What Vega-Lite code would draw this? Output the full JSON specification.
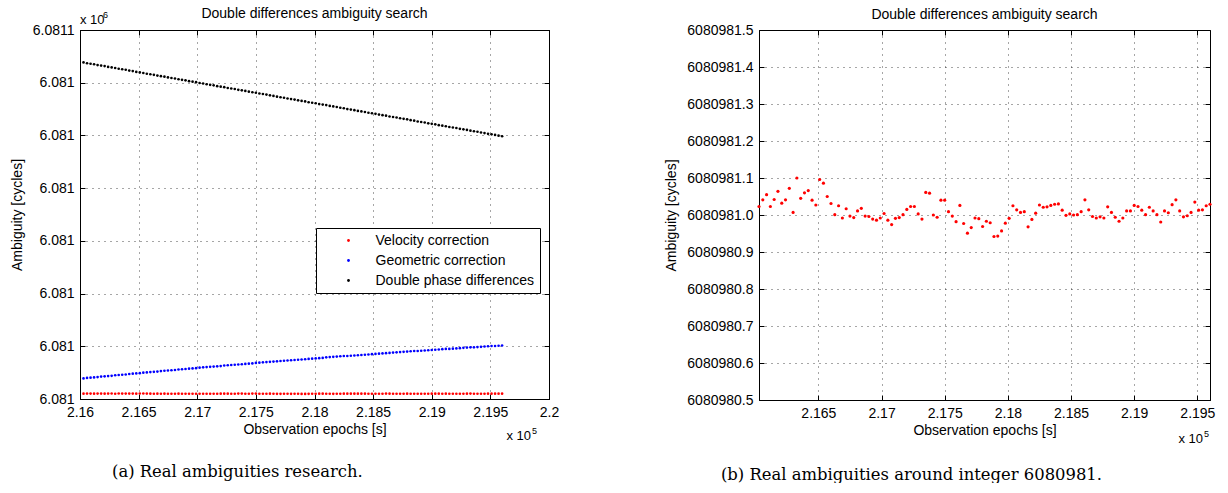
{
  "$schema": "https://vega.github.io/schema/vega-lite/v6.json",
  "background": "white",
  "padding": {"left": 9, "top": 6, "right": 0, "bottom": 0},
  "datasets": {
    "epochs": [
      {"t": 216030, "vel": 6080981.023, "geo": 6080986.8, "dd": 6081106.7},
      {"t": 216060, "vel": 6080981.041, "geo": 6080987.0, "dd": 6081106.4},
      {"t": 216090, "vel": 6080981.055, "geo": 6080987.1, "dd": 6081106.2},
      {"t": 216120, "vel": 6080981.023, "geo": 6080987.2, "dd": 6081106.0},
      {"t": 216150, "vel": 6080981.042, "geo": 6080987.3, "dd": 6081105.7},
      {"t": 216180, "vel": 6080981.064, "geo": 6080987.5, "dd": 6081105.5},
      {"t": 216210, "vel": 6080981.032, "geo": 6080987.6, "dd": 6081105.3},
      {"t": 216240, "vel": 6080981.041, "geo": 6080987.7, "dd": 6081105.0},
      {"t": 216270, "vel": 6080981.072, "geo": 6080987.8, "dd": 6081104.8},
      {"t": 216300, "vel": 6080981.007, "geo": 6080988.0, "dd": 6081104.6},
      {"t": 216330, "vel": 6080981.100, "geo": 6080988.1, "dd": 6081104.3},
      {"t": 216360, "vel": 6080981.045, "geo": 6080988.2, "dd": 6081104.1},
      {"t": 216390, "vel": 6080981.060, "geo": 6080988.3, "dd": 6081103.9},
      {"t": 216420, "vel": 6080981.066, "geo": 6080988.5, "dd": 6081103.6},
      {"t": 216450, "vel": 6080981.040, "geo": 6080988.6, "dd": 6081103.4},
      {"t": 216480, "vel": 6080981.027, "geo": 6080988.7, "dd": 6081103.1},
      {"t": 216510, "vel": 6080981.096, "geo": 6080988.8, "dd": 6081102.9},
      {"t": 216540, "vel": 6080981.086, "geo": 6080989.0, "dd": 6081102.7},
      {"t": 216570, "vel": 6080981.050, "geo": 6080989.1, "dd": 6081102.4},
      {"t": 216600, "vel": 6080981.031, "geo": 6080989.2, "dd": 6081102.2},
      {"t": 216630, "vel": 6080981.001, "geo": 6080989.3, "dd": 6081102.0},
      {"t": 216660, "vel": 6080981.025, "geo": 6080989.4, "dd": 6081101.7},
      {"t": 216690, "vel": 6080980.992, "geo": 6080989.6, "dd": 6081101.5},
      {"t": 216720, "vel": 6080981.017, "geo": 6080989.7, "dd": 6081101.3},
      {"t": 216750, "vel": 6080980.997, "geo": 6080989.8, "dd": 6081101.0},
      {"t": 216780, "vel": 6080980.993, "geo": 6080989.9, "dd": 6081100.8},
      {"t": 216810, "vel": 6080981.011, "geo": 6080990.0, "dd": 6081100.6},
      {"t": 216840, "vel": 6080981.018, "geo": 6080990.2, "dd": 6081100.3},
      {"t": 216870, "vel": 6080980.997, "geo": 6080990.3, "dd": 6081100.1},
      {"t": 216900, "vel": 6080980.996, "geo": 6080990.4, "dd": 6081099.9},
      {"t": 216930, "vel": 6080980.989, "geo": 6080990.5, "dd": 6081099.6},
      {"t": 216960, "vel": 6080980.986, "geo": 6080990.6, "dd": 6081099.4},
      {"t": 216990, "vel": 6080980.992, "geo": 6080990.7, "dd": 6081099.2},
      {"t": 217020, "vel": 6080981.004, "geo": 6080990.9, "dd": 6081098.9},
      {"t": 217050, "vel": 6080980.986, "geo": 6080991.0, "dd": 6081098.7},
      {"t": 217080, "vel": 6080980.974, "geo": 6080991.1, "dd": 6081098.4},
      {"t": 217110, "vel": 6080980.991, "geo": 6080991.2, "dd": 6081098.2},
      {"t": 217140, "vel": 6080980.993, "geo": 6080991.3, "dd": 6081098.0},
      {"t": 217170, "vel": 6080981.001, "geo": 6080991.4, "dd": 6081097.7},
      {"t": 217200, "vel": 6080981.015, "geo": 6080991.5, "dd": 6081097.5},
      {"t": 217230, "vel": 6080981.023, "geo": 6080991.7, "dd": 6081097.3},
      {"t": 217260, "vel": 6080981.023, "geo": 6080991.8, "dd": 6081097.0},
      {"t": 217290, "vel": 6080981.003, "geo": 6080991.9, "dd": 6081096.8},
      {"t": 217320, "vel": 6080980.989, "geo": 6080992.0, "dd": 6081096.6},
      {"t": 217350, "vel": 6080981.061, "geo": 6080992.1, "dd": 6081096.3},
      {"t": 217380, "vel": 6080981.059, "geo": 6080992.2, "dd": 6081096.1},
      {"t": 217410, "vel": 6080981.000, "geo": 6080992.3, "dd": 6081095.9},
      {"t": 217440, "vel": 6080980.994, "geo": 6080992.4, "dd": 6081095.6},
      {"t": 217470, "vel": 6080981.040, "geo": 6080992.5, "dd": 6081095.4},
      {"t": 217500, "vel": 6080981.040, "geo": 6080992.7, "dd": 6081095.2},
      {"t": 217530, "vel": 6080981.009, "geo": 6080992.8, "dd": 6081094.9},
      {"t": 217560, "vel": 6080980.997, "geo": 6080992.9, "dd": 6081094.7},
      {"t": 217590, "vel": 6080980.982, "geo": 6080993.0, "dd": 6081094.5},
      {"t": 217620, "vel": 6080981.026, "geo": 6080993.1, "dd": 6081094.2},
      {"t": 217650, "vel": 6080980.977, "geo": 6080993.2, "dd": 6081094.0},
      {"t": 217680, "vel": 6080980.951, "geo": 6080993.3, "dd": 6081093.7},
      {"t": 217710, "vel": 6080980.966, "geo": 6080993.4, "dd": 6081093.5},
      {"t": 217740, "vel": 6080980.992, "geo": 6080993.5, "dd": 6081093.3},
      {"t": 217770, "vel": 6080980.990, "geo": 6080993.6, "dd": 6081093.0},
      {"t": 217800, "vel": 6080980.969, "geo": 6080993.7, "dd": 6081092.8},
      {"t": 217830, "vel": 6080980.983, "geo": 6080993.8, "dd": 6081092.6},
      {"t": 217860, "vel": 6080980.979, "geo": 6080993.9, "dd": 6081092.3},
      {"t": 217890, "vel": 6080980.942, "geo": 6080994.0, "dd": 6081092.1},
      {"t": 217920, "vel": 6080980.943, "geo": 6080994.1, "dd": 6081091.9},
      {"t": 217950, "vel": 6080980.957, "geo": 6080994.2, "dd": 6081091.6},
      {"t": 217980, "vel": 6080980.978, "geo": 6080994.3, "dd": 6081091.4},
      {"t": 218010, "vel": 6080980.991, "geo": 6080994.4, "dd": 6081091.2},
      {"t": 218040, "vel": 6080981.025, "geo": 6080994.5, "dd": 6081090.9},
      {"t": 218070, "vel": 6080981.014, "geo": 6080994.6, "dd": 6081090.7},
      {"t": 218100, "vel": 6080981.007, "geo": 6080994.8, "dd": 6081090.5},
      {"t": 218130, "vel": 6080981.009, "geo": 6080994.9, "dd": 6081090.2},
      {"t": 218160, "vel": 6080980.968, "geo": 6080995.0, "dd": 6081090.0},
      {"t": 218190, "vel": 6080980.988, "geo": 6080995.1, "dd": 6081089.8},
      {"t": 218220, "vel": 6080981.005, "geo": 6080995.2, "dd": 6081089.5},
      {"t": 218250, "vel": 6080981.027, "geo": 6080995.3, "dd": 6081089.3},
      {"t": 218280, "vel": 6080981.021, "geo": 6080995.3, "dd": 6081089.0},
      {"t": 218310, "vel": 6080981.022, "geo": 6080995.4, "dd": 6081088.8},
      {"t": 218340, "vel": 6080981.026, "geo": 6080995.5, "dd": 6081088.6},
      {"t": 218370, "vel": 6080981.029, "geo": 6080995.6, "dd": 6081088.3},
      {"t": 218400, "vel": 6080981.030, "geo": 6080995.7, "dd": 6081088.1},
      {"t": 218430, "vel": 6080981.013, "geo": 6080995.8, "dd": 6081087.9},
      {"t": 218460, "vel": 6080980.999, "geo": 6080995.9, "dd": 6081087.6},
      {"t": 218490, "vel": 6080981.003, "geo": 6080996.0, "dd": 6081087.4},
      {"t": 218520, "vel": 6080981.000, "geo": 6080996.1, "dd": 6081087.2},
      {"t": 218550, "vel": 6080981.001, "geo": 6080996.2, "dd": 6081086.9},
      {"t": 218580, "vel": 6080981.009, "geo": 6080996.3, "dd": 6081086.7},
      {"t": 218610, "vel": 6080981.041, "geo": 6080996.4, "dd": 6081086.5},
      {"t": 218640, "vel": 6080981.014, "geo": 6080996.5, "dd": 6081086.2},
      {"t": 218670, "vel": 6080980.996, "geo": 6080996.6, "dd": 6081086.0},
      {"t": 218700, "vel": 6080980.992, "geo": 6080996.7, "dd": 6081085.8},
      {"t": 218730, "vel": 6080980.995, "geo": 6080996.8, "dd": 6081085.5},
      {"t": 218760, "vel": 6080980.992, "geo": 6080996.9, "dd": 6081085.3},
      {"t": 218790, "vel": 6080981.022, "geo": 6080997.0, "dd": 6081085.1},
      {"t": 218820, "vel": 6080981.007, "geo": 6080997.1, "dd": 6081084.8},
      {"t": 218850, "vel": 6080980.994, "geo": 6080997.2, "dd": 6081084.6},
      {"t": 218880, "vel": 6080980.983, "geo": 6080997.2, "dd": 6081084.3},
      {"t": 218910, "vel": 6080980.992, "geo": 6080997.3, "dd": 6081084.1},
      {"t": 218940, "vel": 6080981.011, "geo": 6080997.4, "dd": 6081083.9},
      {"t": 218970, "vel": 6080981.011, "geo": 6080997.5, "dd": 6081083.6},
      {"t": 219000, "vel": 6080981.026, "geo": 6080997.6, "dd": 6081083.4},
      {"t": 219030, "vel": 6080981.023, "geo": 6080997.7, "dd": 6081083.2},
      {"t": 219060, "vel": 6080981.013, "geo": 6080997.8, "dd": 6081082.9},
      {"t": 219090, "vel": 6080981.001, "geo": 6080997.9, "dd": 6081082.7},
      {"t": 219120, "vel": 6080981.021, "geo": 6080998.0, "dd": 6081082.5},
      {"t": 219150, "vel": 6080981.011, "geo": 6080998.0, "dd": 6081082.2},
      {"t": 219180, "vel": 6080981.001, "geo": 6080998.1, "dd": 6081082.0},
      {"t": 219210, "vel": 6080980.981, "geo": 6080998.2, "dd": 6081081.8},
      {"t": 219240, "vel": 6080981.011, "geo": 6080998.3, "dd": 6081081.5},
      {"t": 219270, "vel": 6080981.006, "geo": 6080998.4, "dd": 6081081.3},
      {"t": 219300, "vel": 6080981.028, "geo": 6080998.5, "dd": 6081081.1},
      {"t": 219330, "vel": 6080981.041, "geo": 6080998.6, "dd": 6081080.8},
      {"t": 219360, "vel": 6080981.011, "geo": 6080998.6, "dd": 6081080.6},
      {"t": 219390, "vel": 6080980.995, "geo": 6080998.7, "dd": 6081080.4},
      {"t": 219420, "vel": 6080980.998, "geo": 6080998.8, "dd": 6081080.1},
      {"t": 219450, "vel": 6080981.007, "geo": 6080998.9, "dd": 6081079.9},
      {"t": 219480, "vel": 6080981.035, "geo": 6080999.0, "dd": 6081079.6},
      {"t": 219510, "vel": 6080981.013, "geo": 6080999.1, "dd": 6081079.4},
      {"t": 219540, "vel": 6080981.014, "geo": 6080999.1, "dd": 6081079.2},
      {"t": 219570, "vel": 6080981.025, "geo": 6080999.2, "dd": 6081078.9},
      {"t": 219600, "vel": 6080981.029, "geo": 6080999.3, "dd": 6081078.7}
    ]
  },
  "hconcat": [
    {
      "title": {"text": "(a) Real ambiguities research.", "orient": "bottom", "font": "DejaVu Serif", "fontSize": 16.4, "fontWeight": "normal", "anchor": "middle", "frame": "bounds", "offset": 20, "dx": -47},
      "vconcat": [
        {
          "width": 469,
          "height": 369,
          "title": {"text": "Double differences ambiguity search", "frame": "group", "anchor": "middle", "offset": -10},
          "resolve": {"axis": {"x": "independent", "y": "independent"}},
          "layer": [
            {
              "data": {"name": "epochs"},
              "transform": [{"fold": ["vel", "geo", "dd"], "as": ["series", "value"]}],
              "mark": {"type": "point", "filled": true, "size": 7, "opacity": 1, "shape": "circle"},
              "encoding": {
                "x": {
                  "field": "t", "type": "quantitative", "title": "Observation epochs [s]",
                  "scale": {"domain": [216000, 220000], "nice": false, "zero": false},
                  "axis": {"values": [216000, 216500, 217000, 217500, 218000, 218500, 219000, 219500, 220000],
                           "tickCount": 9, "labelExpr": "format(datum.value / 100000, '.4~f')", "labelOverlap": false}
                },
                "y": {
                  "field": "value", "type": "quantitative", "title": "Ambiguity [cycles]",
                  "scale": {"domain": [6080979, 6081119], "nice": false, "zero": false},
                  "axis": {"values": [6080979, 6080999, 6081019, 6081039, 6081059, 6081079, 6081099, 6081119],
                           "tickCount": 8, "labelExpr": "datum.value > 6081110 ? '6.0811' : '6.081'",
                           "labelOverlap": false, "minExtent": 49, "maxExtent": 49}
                },
                "color": {
                  "field": "series", "type": "nominal",
                  "scale": {"domain": ["vel", "geo", "dd"], "range": ["#ff0000", "#0000ff", "#000000"]},
                  "legend": {
                    "orient": "none", "legendX": 236, "legendY": 198, "title": null,
                    "labelExpr": "datum.value == 'vel' ? 'Velocity correction' : datum.value == 'geo' ? 'Geometric correction' : 'Double phase differences'",
                    "symbolOffset": 20, "labelOffset": 20
                  }
                }
              }
            },
            {
              "data": {"values": [{}]},
              "mark": {"type": "text", "align": "left", "baseline": "alphabetic", "fontSize": 13, "dy": -6.5},
              "encoding": {
                "x": {"datum": 216000, "type": "quantitative",
                      "axis": {"orient": "top", "values": [216000, 216500, 217000, 217500, 218000, 218500, 219000, 219500, 220000],
                               "tickCount": 9, "labels": false, "grid": false, "domain": false, "title": null}},
                "y": {"datum": 6081119, "type": "quantitative",
                      "axis": {"orient": "right", "values": [6080979, 6080999, 6081019, 6081039, 6081059, 6081079, 6081099, 6081119],
                               "tickCount": 8, "labels": false, "grid": false, "domain": false, "title": null, "minExtent": 0, "maxExtent": 0}},
                "text": {"value": "x 10"}
              }
            },
            {
              "data": {"values": [{}]},
              "mark": {"type": "text", "align": "left", "baseline": "alphabetic", "fontSize": 9, "dx": 23, "dy": -12},
              "encoding": {
                "x": {"datum": 216000, "type": "quantitative", "axis": null},
                "y": {"datum": 6081119, "type": "quantitative", "axis": null},
                "text": {"value": "6"}
              }
            },
            {
              "data": {"values": [{}]},
              "mark": {"type": "text", "align": "right", "baseline": "alphabetic", "fontSize": 13, "dx": -18, "dy": 41},
              "encoding": {
                "x": {"datum": 220000, "type": "quantitative", "axis": null},
                "y": {"datum": 6080979, "type": "quantitative", "axis": null},
                "text": {"value": "x 10"}
              }
            },
            {
              "data": {"values": [{}]},
              "mark": {"type": "text", "align": "left", "baseline": "alphabetic", "fontSize": 9, "dx": -17, "dy": 35},
              "encoding": {
                "x": {"datum": 220000, "type": "quantitative", "axis": null},
                "y": {"datum": 6080979, "type": "quantitative", "axis": null},
                "text": {"value": "5"}
              }
            }
          ]
        }
      ]
    },
    {
      "title": {"text": "(b) Real ambiguities around integer 6080981.", "orient": "bottom", "font": "DejaVu Serif", "fontSize": 16.4, "fontWeight": "normal", "anchor": "middle", "frame": "bounds", "offset": 20, "dx": -28},
      "vconcat": [
        {
          "width": 451,
          "height": 370,
          "title": {"text": "Double differences ambiguity search", "frame": "group", "anchor": "middle", "offset": 1},
          "resolve": {"axis": {"x": "independent", "y": "independent"}},
          "layer": [
            {
              "data": {"name": "epochs"},
              "mark": {"type": "point", "filled": true, "size": 10, "opacity": 1, "shape": "circle", "color": "#ff0000"},
              "encoding": {
                "x": {
                  "field": "t", "type": "quantitative", "title": "Observation epochs [s]",
                  "scale": {"domain": [216030, 219600], "nice": false, "zero": false},
                  "axis": {"values": [216500, 217000, 217500, 218000, 218500, 219000, 219500],
                           "tickCount": 7, "labelExpr": "format(datum.value / 100000, '.4~f')", "labelOverlap": false}
                },
                "y": {
                  "field": "vel", "type": "quantitative", "title": "Ambiguity [cycles]",
                  "scale": {"domain": [6080980.5, 6080981.5], "nice": false, "zero": false},
                  "axis": {"values": [6080980.5, 6080980.6, 6080980.7, 6080980.8, 6080980.9, 6080981.0, 6080981.1, 6080981.2, 6080981.3, 6080981.4, 6080981.5],
                           "tickCount": 11, "format": ".1f", "labelOverlap": false, "minExtent": 71, "maxExtent": 71, "titlePadding": 10}
                }
              }
            },
            {
              "data": {"values": [{}]},
              "mark": {"type": "text", "align": "right", "baseline": "alphabetic", "fontSize": 13, "dx": -7, "dy": 43},
              "encoding": {
                "x": {"datum": 219600, "type": "quantitative",
                      "axis": {"orient": "top", "values": [216500, 217000, 217500, 218000, 218500, 219000, 219500],
                               "tickCount": 7, "labels": false, "grid": false, "domain": false, "title": null}},
                "y": {"datum": 6080980.5, "type": "quantitative",
                      "axis": {"orient": "right", "values": [6080980.5, 6080980.6, 6080980.7, 6080980.8, 6080980.9, 6080981.0, 6080981.1, 6080981.2, 6080981.3, 6080981.4, 6080981.5],
                               "tickCount": 11, "labels": false, "grid": false, "domain": false, "title": null, "minExtent": 0, "maxExtent": 0}},
                "text": {"value": "x 10"}
              }
            },
            {
              "data": {"values": [{}]},
              "mark": {"type": "text", "align": "left", "baseline": "alphabetic", "fontSize": 9, "dx": -6, "dy": 37},
              "encoding": {
                "x": {"datum": 219600, "type": "quantitative", "axis": null},
                "y": {"datum": 6080980.5, "type": "quantitative", "axis": null},
                "text": {"value": "5"}
              }
            }
          ]
        }
      ]
    }
  ],
  "spacing": 103,
  "config": {
    "font": "Liberation Sans",
    "view": {"stroke": "black", "strokeWidth": 1},
    "text": {"font": "Liberation Sans", "color": "black"},
    "axis": {
      "labelFont": "Liberation Sans", "labelFontSize": 14, "labelColor": "black",
      "titleFont": "Liberation Sans", "titleFontSize": 14, "titleFontWeight": "normal", "titleColor": "black",
      "domainColor": "black", "tickColor": "black", "tickSize": -5,
      "grid": true, "gridColor": "black", "gridDash": [1, 5], "gridOpacity": 0.7,
      "labelFlush": false, "labelOverlap": false
    },
    "axisX": {"labelPadding": 11, "titlePadding": 3},
    "axisY": {"labelPadding": 11, "titlePadding": 7},
    "title": {"font": "Liberation Sans", "fontSize": 14, "fontWeight": "normal", "color": "black", "offset": 9},
    "legend": {
      "labelFont": "Liberation Sans", "labelFontSize": 14, "labelColor": "black",
      "strokeColor": "black", "fillColor": "white", "padding": 5.5,
      "symbolType": "circle", "symbolSize": 8, "rowPadding": 6
    }
  }
}
